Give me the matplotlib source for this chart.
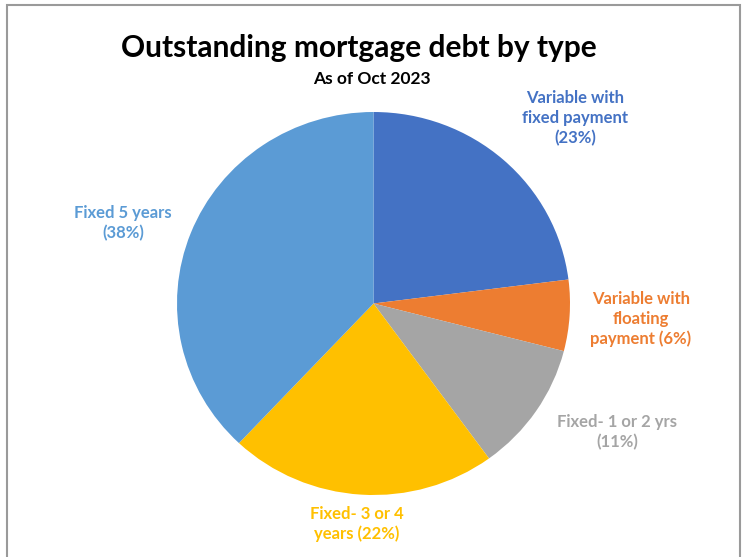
import matplotlib
matplotlib.use("Agg")
import matplotlib.pyplot as plt
from matplotlib.patches import Rectangle

plt.rcParams['font.family'] = ['Lato', 'DejaVu Sans']

labels = ['Variable with\nfixed payment\n(23%)',
          'Variable with\nfloating\npayment (6%)',
          'Fixed- 1 or 2 yrs\n(11%)',
          'Fixed- 3 or 4\nyears (22%)',
          'Fixed 5 years\n(38%)']
shares = [23, 6, 11, 22, 38]
colors = ['#4472C4', '#ED7D31', '#A5A5A5', '#FFC000', '#5B9BD5']
# label centres in pixels (x from left, y from top)
label_px = [(575, 118), (641, 319), (617, 432), (357, 524), (123, 223)]

W, H = 745, 557
fig = plt.figure(figsize=(W / 100, H / 100), dpi=100)

cx, cy, rx, ry = 373.5, 303.5, 196.5, 191.5
ax = fig.add_axes([(cx - rx) / W, 1 - (cy + ry) / H, 2 * rx / W, 2 * ry / H])
ax.pie(shares, colors=colors, startangle=90, counterclock=False, radius=1,
       wedgeprops=dict(linewidth=0))
ax.set_xlim(-1, 1)
ax.set_ylim(-1, 1)
ax.set_aspect('auto')
ax.axis('off')

for lab, (px, py), c in zip(labels, label_px, colors):
    fig.text(px / W, 1 - py / H, lab, color=c, fontsize=12, fontweight='bold',
             ha='center', va='center', linespacing=1.3)

fig.text(359 / W, 1 - 48 / H, 'Outstanding mortgage debt by type',
         fontsize=21.5, fontweight='bold', ha='center', va='center')
fig.text(372 / W, 1 - 79 / H, 'As of Oct 2023',
         fontsize=12.5, fontweight='bold', ha='center', va='center')

# outer chart frame
fig.patches.append(Rectangle((7 / W, -0.02), (740 - 7) / W, 1.02 - 5 / H,
                             transform=fig.transFigure, fill=False,
                             edgecolor='#9a9a9a', linewidth=1.5))

fig.savefig('out.png', dpi=100)
